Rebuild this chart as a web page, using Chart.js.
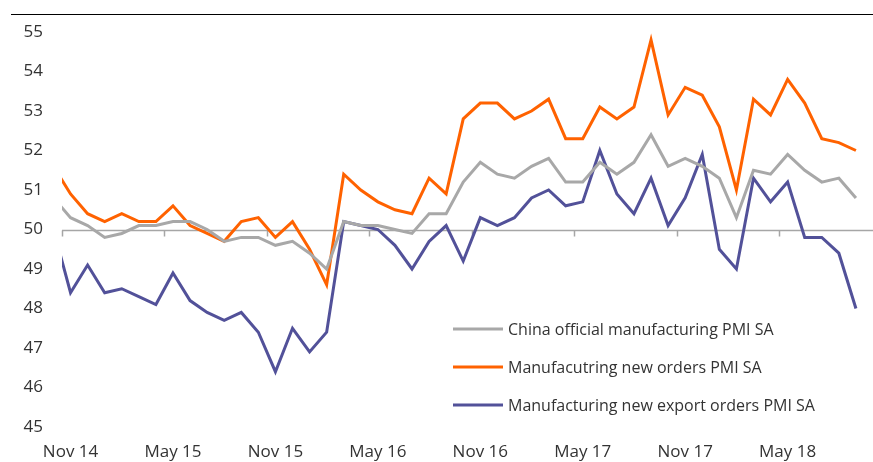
<!DOCTYPE html>
<html>
<head>
<meta charset="utf-8">
<script src="https://cdn.jsdelivr.net/npm/chart.js@4/dist/chart.umd.min.js"></script>
<style>
  html, body { margin: 0; padding: 0; background: #fff; }
  #wrap { position: relative; width: 873px; height: 462px; }
</style>
</head>
<body>
<div id="wrap"><canvas id="chart"></canvas></div>
<script>
// Monthly series, Oct 14 .. Sep 18 (Oct 14 sits just left of the axis and is clipped)
const firstMonthIndex = -1; // Oct 14, relative to Nov 14 = 0
const tickLabels = ["Nov 14", "May 15", "Nov 15", "May 16", "Nov 16", "May 17", "Nov 17", "May 18"];
const yTicks = [45, 46, 47, 48, 49, 50, 51, 52, 53, 54, 55];

const officialPmi = [50.8,
  50.3, 50.1,
  49.8, 49.9, 50.1, 50.1, 50.2, 50.2, 50.0, 49.7, 49.8, 49.8, 49.6, 49.7,
  49.4, 49.0, 50.2, 50.1, 50.1, 50.0, 49.9, 50.4, 50.4, 51.2, 51.7, 51.4,
  51.3, 51.6, 51.8, 51.2, 51.2, 51.7, 51.4, 51.7, 52.4, 51.6, 51.8, 51.6,
  51.3, 50.3, 51.5, 51.4, 51.9, 51.5, 51.2, 51.3, 50.8];

const newOrders = [51.6,
  50.9, 50.4,
  50.2, 50.4, 50.2, 50.2, 50.6, 50.1, 49.9, 49.7, 50.2, 50.3, 49.8, 50.2,
  49.5, 48.6, 51.4, 51.0, 50.7, 50.5, 50.4, 51.3, 50.9, 52.8, 53.2, 53.2,
  52.8, 53.0, 53.3, 52.3, 52.3, 53.1, 52.8, 53.1, 54.8, 52.9, 53.6, 53.4,
  52.6, 51.0, 53.3, 52.9, 53.8, 53.2, 52.3, 52.2, 52.0];

const newExportOrders = [50.0,
  48.4, 49.1,
  48.4, 48.5, 48.3, 48.1, 48.9, 48.2, 47.9, 47.7, 47.9, 47.4, 46.4, 47.5,
  46.9, 47.4, 50.2, 50.1, 50.0, 49.6, 49.0, 49.7, 50.1, 49.2, 50.3, 50.1,
  50.3, 50.8, 51.0, 50.6, 50.7, 52.0, 50.9, 50.4, 51.3, 50.1, 50.8, 51.9,
  49.5, 49.0, 51.3, 50.7, 51.2, 49.8, 49.8, 49.4, 48.0];

const seriesNames = [
  "China official manufacturing PMI SA",
  "Manufacutring new orders PMI SA",
  "Manufacturing new export orders PMI SA"
];
const seriesColors = ["#a8a8a8", "#ff6200", "#525199"];

const textColor = "#333333";
Chart.defaults.font.family = "'Open Sans', 'Noto Sans', sans-serif";
Chart.defaults.font.size = 17;
Chart.defaults.color = textColor;

const toPoints = arr => arr.map((v, i) => ({ x: firstMonthIndex + i, y: v }));

// axis line at 50 with tick marks on category boundaries, plus the rule on top
const decorPlugin = {
  id: "decor",
  beforeDraw(chart) {
    const ctx = chart.ctx;
    ctx.save();
    ctx.strokeStyle = "#000";
    ctx.lineWidth = 1;
    ctx.beginPath();
    ctx.moveTo(11, 14.5);
    ctx.lineTo(chart.width, 14.5);
    ctx.stroke();
    ctx.restore();
  },
  beforeDatasetsDraw(chart) {
    const { ctx, chartArea, scales } = chart;
    const y = Math.round(scales.y.getPixelForValue(50)) + 0.5;
    ctx.save();
    ctx.strokeStyle = "#a6a6a6";
    ctx.lineWidth = 1.5;
    ctx.beginPath();
    ctx.moveTo(chartArea.left, y);
    ctx.lineTo(chartArea.right, y);
    for (let v = 0; v < tickLabels.length * 6; v += 6) {
      const x = Math.round(scales.x.getPixelForValue(v - 0.5)) + 0.5;
      ctx.moveTo(x, y);
      ctx.lineTo(x, y + 6);
    }
    ctx.stroke();
    ctx.restore();
  },
  afterDraw(chart) {
    const ctx = chart.ctx;
    const rows = [329, 367, 405];
    ctx.save();
    ctx.font = "16px 'Open Sans', 'Noto Sans', sans-serif";
    ctx.textBaseline = "middle";
    ctx.fillStyle = textColor;
    seriesNames.forEach((name, i) => {
      ctx.strokeStyle = seriesColors[i];
      ctx.lineWidth = 3;
      ctx.beginPath();
      ctx.moveTo(453, rows[i]);
      ctx.lineTo(503, rows[i]);
      ctx.stroke();
      ctx.fillText(name, 508, rows[i] + 1);
    });
    ctx.restore();
  }
};

new Chart(document.getElementById("chart").getContext("2d"), {
  type: "line",
  data: {
    datasets: [officialPmi, newOrders, newExportOrders].map((arr, i) => ({
      label: seriesNames[i],
      data: toPoints(arr),
      borderColor: seriesColors[i],
      borderWidth: 3,
      pointRadius: 0,
      tension: 0,
      clip: 0
    }))
  },
  options: {
    responsive: true,
    maintainAspectRatio: false,
    animation: false,
    layout: { padding: { top: 32, right: 0, bottom: 0, left: 0 } },
    scales: {
      x: {
        type: "linear",
        min: -0.5,
        max: 47,
        afterBuildTicks: scale => {
          scale.ticks = tickLabels.map((_, i) => ({ value: i * 6 }));
        },
        afterFit: scale => { scale.height = 35; },
        ticks: {
          autoSkip: false,
          maxRotation: 0,
          padding: 7,
          callback: value => tickLabels[value / 6]
        },
        grid: { display: false },
        border: { display: false }
      },
      y: {
        min: 45,
        max: 55,
        afterBuildTicks: scale => {
          scale.ticks = yTicks.map(v => ({ value: v }));
        },
        afterFit: scale => { scale.width = 62; },
        ticks: { padding: 19 },
        grid: { display: false, drawTicks: false },
        border: { display: false }
      }
    },
    plugins: {
      legend: { display: false },
      tooltip: { enabled: false }
    }
  },
  plugins: [decorPlugin]
});
</script>
</body>
</html>
